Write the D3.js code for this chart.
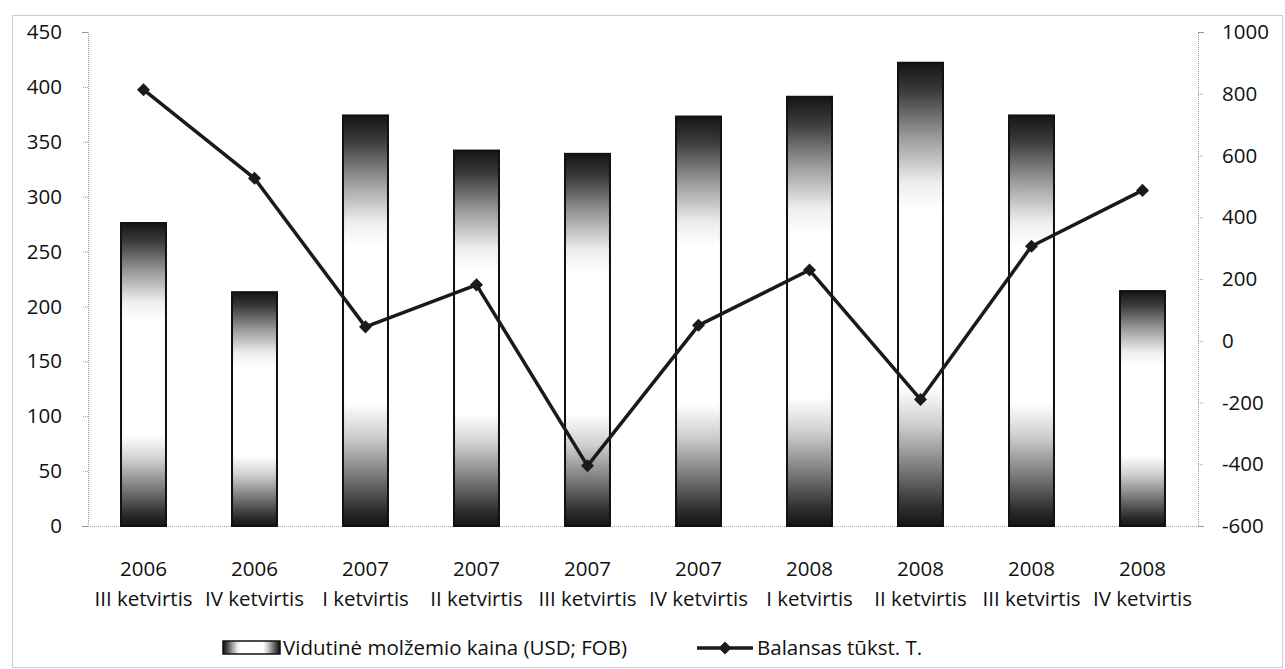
<!DOCTYPE html>
<html>
<head>
<meta charset="utf-8">
<script src="https://cdn.jsdelivr.net/npm/d3@7"></script>
<style>
  body { margin: 0; background: #fff; }
  svg text { font-family: "Open Sans", sans-serif; fill: #111; }
</style>
</head>
<body>
<div id="chart"></div>
<script>
(function(){

// data
var years    = ['2006', '2006', '2007', '2007', '2007', '2007', '2008', '2008', '2008', '2008'];
var quarters = ['III ketvirtis', 'IV ketvirtis', 'I ketvirtis', 'II ketvirtis', 'III ketvirtis',
                'IV ketvirtis', 'I ketvirtis', 'II ketvirtis', 'III ketvirtis', 'IV ketvirtis'];
var prices   = [276, 213, 374, 342, 339, 373, 391, 422, 374, 214];
var balance  = [813, 526, 45, 181, -405, 50, 229, -190, 306, 487];
var leftTicks  = [0, 50, 100, 150, 200, 250, 300, 350, 400, 450];
var rightTicks = [-600, -400, -200, 0, 200, 400, 600, 800, 1000];

var priceName   = 'Vidutinė molžemio kaina (USD; FOB)';
var balanceName = 'Balansas tūkst. T.';

var width = 1285, height = 669;
var plot = {left: 88, right: 1198, top: 32, bottom: 526};
var fontSize = '20.5px';

var svg = d3.select('#chart').append('svg')
	.attr('width', width)
	.attr('height', height);

// bar fill: dark ends, white middle
var defs = svg.append('defs');
var stops = [
	[0, '#151515'], [0.06, '#3a3a3a'], [0.16, '#9a9a9a'], [0.26, '#eeeeee'], [0.32, '#ffffff'],
	[0.70, '#ffffff'], [0.78, '#d0d0d0'], [0.88, '#777777'], [0.96, '#2e2e2e'], [1, '#151515']
];
function gradient(id, horizontal) {
	var g = defs.append('linearGradient').attr('id', id)
		.attr('x1', 0).attr('y1', 0)
		.attr('x2', horizontal ? 1 : 0).attr('y2', horizontal ? 0 : 1);
	g.selectAll('stop').data(stops).enter().append('stop')
		.attr('offset', function(d) { return d[0]; })
		.attr('stop-color', function(d) { return d[1]; });
}
gradient('barGrad', false);
gradient('swatchGrad', true);

// chart border
svg.append('rect')
	.attr('x', 12.5).attr('y', 15.5)
	.attr('width', 1270).attr('height', 652)
	.attr('fill', 'none')
	.attr('stroke', '#999')
	.attr('stroke-dasharray', '1,1');

var x = d3.scaleBand()
	.domain(d3.range(years.length))
	.range([plot.left, plot.right])
	.paddingInner(0.595)
	.paddingOuter(0.2975);

var yLeft = d3.scaleLinear().domain([0, 450]).range([plot.bottom, plot.top]);
var yRight = d3.scaleLinear().domain([-600, 1000]).range([plot.bottom, plot.top]);

// plain hyphen minus like the original
var fmt = function(d) { return String(d); };

// axes
var leftAxis = svg.append('g')
	.attr('transform', 'translate(' + plot.left + ',0)')
	.call(d3.axisLeft(yLeft).tickValues(leftTicks).tickFormat(fmt).tickSize(6).tickPadding(20));
var rightAxis = svg.append('g')
	.attr('transform', 'translate(' + plot.right + ',0)')
	.call(d3.axisRight(yRight).tickValues(rightTicks).tickFormat(fmt).tickSize(6).tickPadding(18));

[leftAxis, rightAxis].forEach(function(a) {
	a.select('.domain').attr('stroke', '#999').attr('stroke-dasharray', '1,1');
	a.selectAll('.tick line').attr('stroke', '#999').attr('stroke-dasharray', '1,1');
	a.selectAll('.tick text')
		.style('font-family', '"Open Sans", sans-serif')
		.style('font-size', fontSize)
		.attr('fill', '#111');
});

// baseline
svg.append('line')
	.attr('x1', plot.left).attr('x2', plot.right)
	.attr('y1', plot.bottom + 0.5).attr('y2', plot.bottom + 0.5)
	.attr('stroke', '#aaa')
	.attr('stroke-dasharray', '1,1');

// bars
svg.selectAll('rect.bar').data(prices).enter()
	.append('rect')
	.attr('class', 'bar')
	.attr('x', function(d, i) { return x(i); })
	.attr('y', function(d) { return yLeft(d); })
	.attr('width', x.bandwidth())
	.attr('height', function(d) { return yLeft(0) - yLeft(d); })
	.attr('fill', 'url(#barGrad)')
	.attr('stroke', '#111')
	.attr('stroke-width', 2);

// line
var cx = function(i) { return x(i) + x.bandwidth() / 2; };
var line = d3.line()
	.x(function(d, i) { return cx(i); })
	.y(function(d) { return yRight(d); });

svg.append('path')
	.datum(balance)
	.attr('d', line)
	.attr('fill', 'none')
	.attr('stroke', '#1a1a1a')
	.attr('stroke-width', 3.5)
	.attr('stroke-linejoin', 'round');

var diamond = d3.symbol().type(d3.symbolSquare).size(85);
svg.selectAll('path.marker').data(balance).enter()
	.append('path')
	.attr('class', 'marker')
	.attr('d', diamond)
	.attr('transform', function(d, i) { return 'translate(' + cx(i) + ',' + yRight(d) + ') rotate(45)'; })
	.attr('fill', '#1a1a1a');

// category labels
var cat = svg.selectAll('g.cat').data(years).enter()
	.append('g')
	.attr('class', 'cat')
	.attr('transform', function(d, i) { return 'translate(' + cx(i) + ',0)'; });
cat.append('text')
	.attr('y', 576)
	.attr('text-anchor', 'middle')
	.style('font-size', fontSize)
	.text(function(d) { return d; });
cat.append('text')
	.attr('y', 606)
	.attr('text-anchor', 'middle')
	.style('font-size', fontSize)
	.text(function(d, i) { return quarters[i]; });

// legend
var legend = svg.append('g').attr('transform', 'translate(0,648)');
legend.append('rect')
	.attr('x', 223).attr('y', -7)
	.attr('width', 57).attr('height', 13)
	.attr('fill', 'url(#swatchGrad)')
	.attr('stroke', '#111')
	.attr('stroke-width', 1.5);
legend.append('text')
	.attr('x', 283).attr('y', 7)
	.style('font-size', fontSize)
	.text(priceName);
legend.append('line')
	.attr('x1', 697).attr('x2', 753)
	.attr('y1', 0).attr('y2', 0)
	.attr('stroke', '#1a1a1a')
	.attr('stroke-width', 3.5);
legend.append('path')
	.attr('d', diamond)
	.attr('transform', 'translate(725,0) rotate(45)')
	.attr('fill', '#1a1a1a');
legend.append('text')
	.attr('x', 757).attr('y', 7)
	.style('font-size', fontSize)
	.text(balanceName);

})();
</script>
</body>
</html>
